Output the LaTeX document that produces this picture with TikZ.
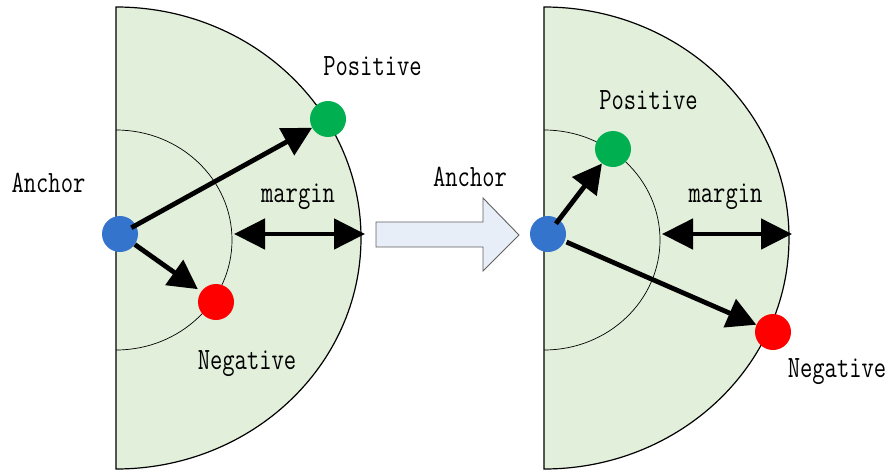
\documentclass[tikz,border=0pt]{standalone}
\usetikzlibrary{arrows.meta}
\definecolor{fillg}{HTML}{E2EFDA}
\definecolor{ablue}{HTML}{3574CC}
\definecolor{pgreen}{HTML}{00B050}
\definecolor{nred}{HTML}{FF0000}
\definecolor{barrow}{HTML}{E8EEF8}
\definecolor{bedge}{HTML}{606060}
\newcommand\lab[1]{\scalebox{0.77}[1]{#1}}
\begin{document}
\begin{tikzpicture}[x=1pt,y=-1pt,
  dot/.style={circle, minimum size=36pt, inner sep=0pt, draw=none},
  lab/.style={font=\fontsize{31}{33}\selectfont\ttfamily, inner sep=0pt, anchor=base},
  arr/.style={line width=4.8pt, -{Triangle[length=29pt,width=30pt]}},
  darr/.style={line width=4.8pt, {Triangle[length=31pt,width=30pt]}-{Triangle[length=31pt,width=30pt]}},
  half/.style={fill=fillg, draw=black, line width=1.2pt},
  inner/.style={draw=black, line width=0.7pt}]
\useasboundingbox (0,0) rectangle (889,471);

% left panel
\draw[half] (116,7) arc[start angle=-90, end angle=90, x radius=245, y radius=231] -- cycle;
\draw[inner] (116,130) arc[start angle=-90, end angle=90, x radius=116, y radius=110];
\node[dot, fill=ablue] (a1) at (120,234) {};
\node[dot, fill=pgreen] (p1) at (328,119) {};
\node[dot, fill=nred] (n1) at (216,302) {};
\draw[arr, shorten <=13pt] (a1.center) -- (p1);
\draw[arr, shorten >=4pt] (a1) -- (n1);
\coordinate (m1a) at (234,234);
\coordinate (m1b) at (365,234);
\draw[darr] (m1a) -- (m1b);
\node[lab] (t1) at (372.5,75) {\lab{Positive}};
\node[lab] (t2) at (48.5,192.7) {\lab{Anchor}};
\node[lab] (t3) at (298,202) {\lab{margin}};
\node[lab] (t4) at (247,369.3) {\lab{Negative}};

% block arrow
\draw[fill=barrow, draw=bedge, line width=0.9pt] (376,222) -- (483,222) -- (483,198) -- (519,235) -- (483,271) -- (483,247) -- (376,247) -- cycle;
\node[lab] (t5) at (470,186.7) {\lab{Anchor}};

% right panel
\draw[half] (544,7) arc[start angle=-90, end angle=90, x radius=245, y radius=231] -- cycle;
\draw[inner] (544,130) arc[start angle=-90, end angle=90, x radius=116, y radius=110];
\node[dot, fill=ablue] (a2) at (548,234) {};
\node[dot, fill=pgreen] (p2) at (613,149) {};
\node[dot, fill=nred] (n2) at (773,332) {};
\draw[arr, shorten <=13pt] (a2.center) -- (p2);
\draw[arr, shorten <=2pt] (a2) -- (n2);
\coordinate (m2a) at (662,234);
\coordinate (m2b) at (792,234);
\draw[darr] (m2a) -- (m2b);
\node[lab] (t6) at (648.5,109) {\lab{Positive}};
\node[lab] (t7) at (725.5,202) {\lab{margin}};
\node[lab] (t8) at (837,377.7) {\lab{Negative}};
\end{tikzpicture}
\end{document}
